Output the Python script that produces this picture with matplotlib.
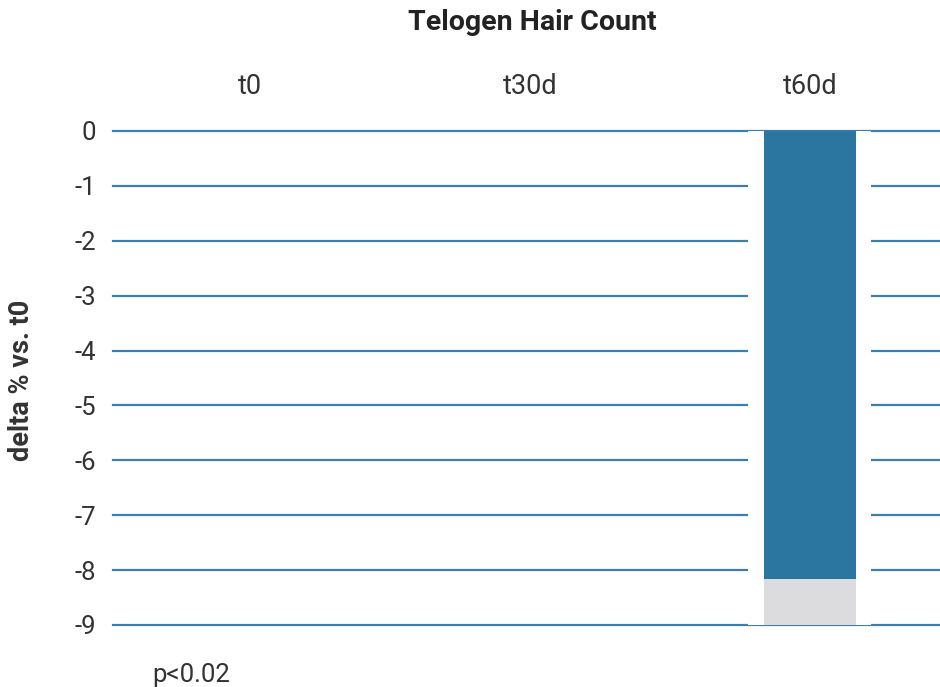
import matplotlib
matplotlib.use("Agg")
import matplotlib.pyplot as plt

categories = ["t0", "t30d", "t60d"]
values = [0.0, 0.0, -8.16]
track_min = -9
yticks = [0, -1, -2, -3, -4, -5, -6, -7, -8, -9]

plt.rcParams['font.family'] = ['Roboto', 'DejaVu Sans']

fig = plt.figure(figsize=(9.4, 6.87), dpi=100)
ax = fig.add_axes([113/940, 1-625/687, 1-113/940, (625-131)/687])

x = list(range(len(categories)))
for yt in yticks:
    ax.axhline(yt, color="#3a7fb0", lw=1.6, zorder=1, clip_on=False)

for i, v in zip(x, values):
    if v != 0:
        ax.bar(i, track_min, width=0.44, color="white", zorder=2, clip_on=False)
        ax.bar(i, track_min, width=0.33, color="#dcdcde", zorder=3)
        ax.bar(i, v, width=0.33, color="#2b76a0", zorder=4)

ax.set_xlim(-0.49, 2.465)
ax.set_ylim(track_min, 0)
ax.set_yticks(yticks)
ax.set_yticklabels([str(t) for t in yticks], fontsize=18.5, color="#333333")
ax.xaxis.tick_top()
ax.set_xticks(x)
ax.set_xticklabels(categories, fontsize=19.5, color="#333333")
ax.tick_params(axis='x', length=0, pad=22)
ax.tick_params(axis='y', length=0, pad=12)
for s in ax.spines.values():
    s.set_visible(False)

fig.text(22/940, 1-380/687, "delta % vs. t0", rotation=90, fontsize=19.5,
         fontweight='bold', color="#333333", ha='center', va='center')
fig.text(532/940, 1-22/687, "Telogen Hair Count", fontsize=20.5,
         fontweight='bold', color="#222222", ha='center', va='center')
fig.text(152/940, 1-675/687, "p<0.02", fontsize=18.5, color="#333333",
         ha='left', va='center')

fig.savefig("out.png", dpi=100)
